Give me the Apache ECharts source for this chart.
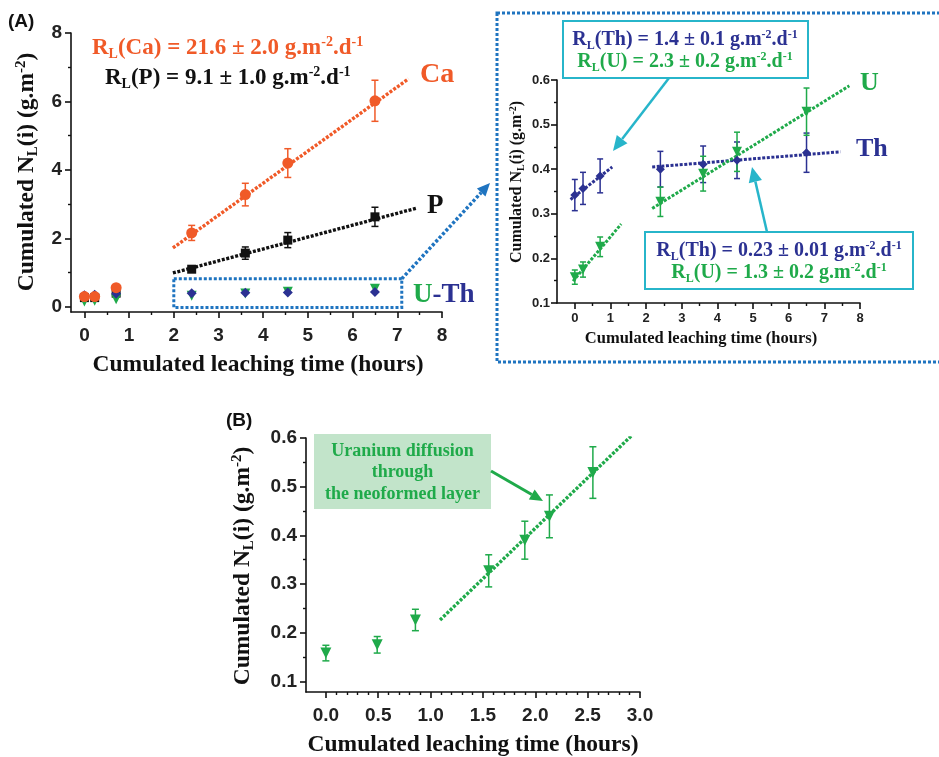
<!DOCTYPE html>
<html>
<head>
<meta charset="utf-8">
<script src="https://cdn.jsdelivr.net/npm/echarts@6/dist/echarts.min.js"></script>
<style>
html,body{margin:0;padding:0;background:#fff}
#main{width:939px;height:757px}
</style>
</head>
<body>
<div id="main"></div>
<script>
// leaching time (hours), panel A + inset
var tA = [0, 0.23, 0.71, 2.4, 3.6, 4.55, 6.5];
// leaching time (hours), panel B
var tB = [0, 0.49, 0.855, 1.555, 1.9, 2.135, 2.55];

var ca    = [0.30, 0.30, 0.56, 2.16, 3.28, 4.20, 6.02];
var caErr = [0.03, 0.03, 0.05, 0.22, 0.33, 0.42, 0.60];
var p     = [0.27, 0.27, 0.40, 1.10, 1.57, 1.95, 2.63];
var pErr  = [0.03, 0.03, 0.04, 0.08, 0.18, 0.22, 0.28];
var th    = [0.342, 0.357, 0.385, 0.400, 0.411, 0.420, 0.437];
var thErr = [0.035, 0.036, 0.038, 0.040, 0.041, 0.041, 0.044];
var u     = [0.158, 0.175, 0.226, 0.327, 0.390, 0.439, 0.529];
var uErr  = [0.016, 0.017, 0.022, 0.033, 0.039, 0.044, 0.053];

// fitted lines (end points)
var caFit  = [[1.98, 1.72], [7.25, 6.66]];
var pFit   = [[1.98, 0.99], [7.45, 2.89]];
var thFit1 = [[-0.12, 0.332], [1.05, 0.405]];
var thFit2 = [[2.17, 0.405], [7.45, 0.439]];
var uFit1  = [[-0.05, 0.149], [1.30, 0.277]];
var uFit2  = [[2.17, 0.312], [7.70, 0.587]];
var uFitB  = [[1.09, 0.226], [2.93, 0.607]];

// ticks
var xTicksA = [0, 1, 2, 3, 4, 5, 6, 7, 8];
var xMinorA = [0.5, 1.5, 2.5, 3.5, 4.5, 5.5, 6.5, 7.5];
var yTicksA = [0, 2, 4, 6, 8];
var yMinorA = [1, 3, 5, 7];
var yTicksI = [0.1, 0.2, 0.3, 0.4, 0.5, 0.6];
var yMinorI = [0.15, 0.25, 0.35, 0.45, 0.55];
var xTicksB = [0, 0.5, 1, 1.5, 2, 2.5, 3];
var xMinorB = [0.1, 0.2, 0.3, 0.4, 0.6, 0.7, 0.8, 0.9, 1.1, 1.2, 1.3, 1.4, 1.6, 1.7, 1.8, 1.9, 2.1, 2.2, 2.3, 2.4, 2.6, 2.7, 2.8, 2.9];

var ORANGE = '#F05A28', NAVY = '#2B3192', GREEN = '#1FAA4A', TEAL = '#27B5CA', BLUE = '#1F74C0';
var SERIF = '"Liberation Serif", "DejaVu Serif", serif';
var SANS = '"Liberation Sans", Arial, sans-serif';

function pts(xs, ys) { return xs.map(function (x, i) { return [x, ys[i]]; }); }
function errs(xs, ys, es) { return xs.map(function (x, i) { return [x, ys[i] - es[i], ys[i] + es[i]]; }); }

function mainAxis(grid, min, max, ticks, fs, digits, margin) {
  return {
    type: 'value', gridIndex: grid, min: min, max: max,
    axisLine: {show: true, onZero: false, lineStyle: {color: '#111', width: 1.6}},
    splitLine: {show: false},
    axisTick: {show: true, length: 6, customValues: ticks, lineStyle: {color: '#111', width: 1.6}},
    axisLabel: {customValues: ticks, fontSize: fs, fontWeight: 'bold', fontFamily: SANS, color: '#222', margin: margin,
      formatter: function (v) { return digits ? Number(v).toFixed(digits) : String(v); }}
  };
}
function minorAxis(grid, min, max, ticks, pos) {
  return {
    type: 'value', gridIndex: grid, min: min, max: max, position: pos,
    axisLine: {show: false, onZero: false},
    splitLine: {show: false},
    axisLabel: {show: false},
    axisTick: {show: true, length: 3, customValues: ticks, lineStyle: {color: '#111', width: 1.4}}
  };
}

function errRender(cap) {
  return function (params, api) {
    var x = api.value(0);
    var a = api.coord([x, api.value(1)]), b = api.coord([x, api.value(2)]);
    var st = {stroke: api.visual('color'), lineWidth: 1.5};
    return {type: 'group', children: [
      {type: 'line', shape: {x1: a[0], y1: a[1], x2: b[0], y2: b[1]}, style: st},
      {type: 'line', shape: {x1: a[0] - cap, y1: a[1], x2: a[0] + cap, y2: a[1]}, style: st},
      {type: 'line', shape: {x1: b[0] - cap, y1: b[1], x2: b[0] + cap, y2: b[1]}, style: st}
    ]};
  };
}
function fitLine(xi, yi, data, color, w) {
  return {type: 'line', xAxisIndex: xi, yAxisIndex: yi, data: data, symbol: 'none', silent: true, z: 2,
    lineStyle: {color: color, width: w, type: [3, 1.6]}};
}
function errSeries(xi, yi, data, color, cap) {
  return {type: 'custom', xAxisIndex: xi, yAxisIndex: yi, data: data, renderItem: errRender(cap),
    itemStyle: {color: color}, encode: {x: 0, y: [1, 2]}, silent: true, z: 3};
}
function dots(xi, yi, data, color, symbol, size, rot) {
  return {type: 'scatter', xAxisIndex: xi, yAxisIndex: yi, data: data, symbol: symbol, symbolSize: size,
    symbolRotate: rot || 0, itemStyle: {color: color, opacity: 1}, z: 4};
}

var chart = echarts.init(document.getElementById('main'));

var option = {
  animation: false,
  backgroundColor: '#fff',
  grid: [
    {left: 71, top: 33, width: 371, height: 279},
    {left: 557, top: 80, width: 303, height: 223},
    {left: 306, top: 438, width: 334, height: 254}
  ],
  xAxis: [
    mainAxis(0, -0.3, 8, xTicksA, 19, 0, 14),
    minorAxis(0, -0.3, 8, xMinorA, 'bottom'),
    mainAxis(1, -0.5, 8, xTicksA, 13, 0, 9),
    minorAxis(1, -0.5, 8, xMinorA, 'bottom'),
    mainAxis(2, -0.19, 3, xTicksB, 19, 1, 14),
    minorAxis(2, -0.19, 3, xMinorB, 'bottom')
  ],
  yAxis: [
    mainAxis(0, -0.15, 8, yTicksA, 19, 0, 9),
    minorAxis(0, -0.15, 8, yMinorA, 'left'),
    mainAxis(1, 0.1, 0.6, yTicksI, 13, 1, 7),
    minorAxis(1, 0.1, 0.6, yMinorI, 'left'),
    mainAxis(2, 0.078, 0.6, yTicksI, 19, 1, 9),
    minorAxis(2, 0.078, 0.6, yMinorI, 'left')
  ],
  series: [
    // panel A
    fitLine(0, 0, caFit, ORANGE, 3.4),
    fitLine(0, 0, pFit, '#111', 3.4),
    errSeries(0, 0, errs(tA, ca, caErr), ORANGE, 3.5),
    errSeries(0, 0, errs(tA, p, pErr), '#111', 3.5),
    dots(0, 0, pts(tA, p), '#111', 'rect', 9),
    dots(0, 0, pts(tA, u), GREEN, 'triangle', 10, 180),
    dots(0, 0, pts(tA, th), NAVY, 'diamond', 10),
    dots(0, 0, pts(tA, ca), ORANGE, 'circle', 11),
    // inset
    fitLine(2, 2, thFit1, NAVY, 3),
    fitLine(2, 2, thFit2, NAVY, 3),
    fitLine(2, 2, uFit1, GREEN, 3),
    fitLine(2, 2, uFit2, GREEN, 3),
    errSeries(2, 2, errs(tA, th, thErr), NAVY, 3),
    errSeries(2, 2, errs(tA, u, uErr), GREEN, 3),
    dots(2, 2, pts(tA, th), NAVY, 'diamond', 9),
    dots(2, 2, pts(tA, u), GREEN, 'triangle', 10, 180),
    // panel B
    fitLine(4, 4, uFitB, GREEN, 3.4),
    errSeries(4, 4, errs(tB, u, uErr), GREEN, 3.5),
    dots(4, 4, pts(tB, u), GREEN, 'triangle', 11, 180)
  ]
};
chart.setOption(option);

function richSet(fs, color) {
  var sm = Math.round(fs * 0.62);
  return {
    m: {fontSize: fs, fontFamily: SERIF, fontWeight: 'bold', fill: color, lineHeight: Math.round(fs * 1.15)},
    s: {fontSize: sm, fontFamily: SERIF, fontWeight: 'bold', fill: color, lineHeight: sm, verticalAlign: 'bottom'},
    p: {fontSize: sm, fontFamily: SERIF, fontWeight: 'bold', fill: color, lineHeight: sm, verticalAlign: 'top'}
  };
}
function rtext(x, y, str, fs, color, align, rot) {
  return {type: 'text', x: x, y: y, rotation: rot || 0, z: 10,
    style: {text: str, rich: richSet(fs, color), align: align || 'left', verticalAlign: 'middle'}};
}
function ptext(x, y, str, font, color, align) {
  return {type: 'text', x: x, y: y, z: 10,
    style: {text: str, font: font, fill: color, align: align || 'left', verticalAlign: 'middle'}};
}
function rate(el, rest) {
  return '{m|R}{s|L}{m|(' + el + ') = ' + rest + ' g.m}{p|-2}{m|.d}{p|-1}';
}
function arrow(x1, y1, x2, y2, color, w, head, dash) {
  var a = Math.atan2(y2 - y1, x2 - x1);
  var bx = x2 - head * Math.cos(a), by = y2 - head * Math.sin(a);
  var hw = head * 0.45;
  return [
    {type: 'line', z: 9, shape: {x1: x1, y1: y1, x2: bx, y2: by}, style: {stroke: color, lineWidth: w, lineDash: dash || null}},
    {type: 'polygon', z: 9, shape: {points: [[x2, y2], [bx + hw * Math.sin(a), by - hw * Math.cos(a)], [bx - hw * Math.sin(a), by + hw * Math.cos(a)]]},
      style: {fill: color}}
  ];
}

var yTitle = '{m|Cumulated N}{s|L}{m|(i) (g.m}{p|-2}{m|)}';
var xTitle = '{m|Cumulated leaching time (hours)}';

// dotted box around U-Th in panel A
var c1 = chart.convertToPixel({xAxisIndex: 0, yAxisIndex: 0}, [2, 0.82]);
var c2 = chart.convertToPixel({xAxisIndex: 0, yAxisIndex: 0}, [7.1, -0.02]);

var g = [
  ptext(8, 22, '(A)', 'bold 19px ' + SANS, '#111'),
  ptext(226, 421, '(B)', 'bold 19px ' + SANS, '#111'),
  rtext(27, 172, yTitle, 23.5, '#111', 'center', Math.PI / 2),
  rtext(258, 365, xTitle, 23.5, '#111', 'center'),
  rtext(517, 182, yTitle, 16, '#111', 'center', Math.PI / 2),
  rtext(701, 339, xTitle, 16.5, '#111', 'center'),
  rtext(243, 566, yTitle, 23.5, '#111', 'center', Math.PI / 2),
  rtext(473, 745, xTitle, 23.5, '#111', 'center'),
  rtext(92, 48, rate('Ca', '21.6 ± 2.0'), 23, ORANGE),
  rtext(105, 78, rate('P', '9.1 ± 1.0'), 23, '#111'),
  rtext(420, 75, '{m|Ca}', 28, ORANGE),
  rtext(427, 206, '{m|P}', 27, '#111'),
  {type: 'text', x: 413, y: 295, z: 10, style: {text: '{g|U}{n|-Th}', verticalAlign: 'middle', rich: {
    g: {fontSize: 27, fontFamily: SERIF, fontWeight: 'bold', fill: GREEN},
    n: {fontSize: 27, fontFamily: SERIF, fontWeight: 'bold', fill: NAVY}}}},
  rtext(860, 83, '{m|U}', 26, GREEN),
  rtext(856, 149, '{m|Th}', 26, NAVY),
  // inset frame (runs off the right edge) and zoom arrow
  {type: 'rect', z: 8, shape: {x: 497, y: 13, width: 470, height: 349},
    style: {fill: null, stroke: BLUE, lineWidth: 3, lineDash: [3, 2]}},
  {type: 'rect', z: 8, shape: {x: c1[0], y: c1[1], width: c2[0] - c1[0], height: c2[1] - c1[1]},
    style: {fill: null, stroke: BLUE, lineWidth: 3, lineDash: [3, 2]}},
  // rate boxes
  {type: 'rect', z: 8, shape: {x: 563, y: 21, width: 245, height: 57}, style: {fill: '#fff', stroke: TEAL, lineWidth: 2}},
  rtext(685, 40, rate('Th', '1.4 ± 0.1'), 20, NAVY, 'center'),
  rtext(685, 62, rate('U', '2.3 ± 0.2'), 20, GREEN, 'center'),
  {type: 'rect', z: 8, shape: {x: 645, y: 232, width: 268, height: 57}, style: {fill: '#fff', stroke: TEAL, lineWidth: 2}},
  rtext(779, 251, rate('Th', '0.23 ± 0.01'), 20, NAVY, 'center'),
  rtext(779, 273, rate('U', '1.3 ± 0.2'), 20, GREEN, 'center'),
  // panel B note
  {type: 'rect', z: 8, shape: {x: 314, y: 434, width: 177, height: 75}, style: {fill: '#C2E4CA'}},
  ptext(402.5, 451, 'Uranium diffusion', 'bold 18px ' + SERIF, GREEN, 'center'),
  ptext(402.5, 472, 'through', 'bold 18px ' + SERIF, GREEN, 'center'),
  ptext(402.5, 494, 'the neoformed layer', 'bold 18px ' + SERIF, GREEN, 'center')
];
g = g.concat(arrow(c2[0], c1[1], 490, 183, BLUE, 3.5, 13, [3, 2]));
g = g.concat(arrow(669, 78, 613, 151, TEAL, 2.5, 15));
g = g.concat(arrow(767, 232, 752, 167, TEAL, 2.5, 15));
g = g.concat(arrow(491, 471, 543, 501, GREEN, 3, 13));

chart.setOption({graphic: g});
</script>
</body>
</html>
